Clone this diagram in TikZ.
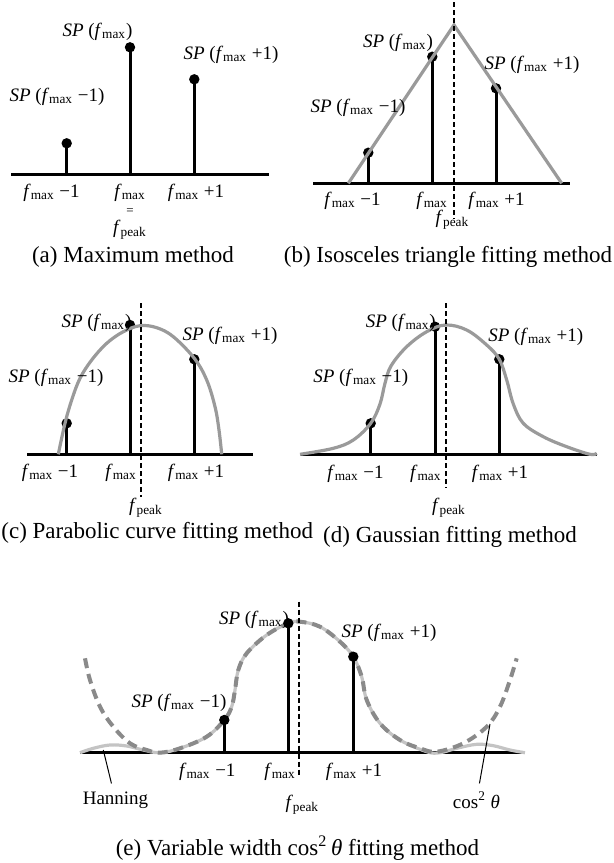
\documentclass[tikz,border=0pt]{standalone}
\usepackage{fontspec}
\setmainfont{Liberation Serif}
\newcommand\fm{\textit{f}\textsubscript{max}}
\newcommand\fpk{\textit{f}\textsubscript{peak}}
\definecolor{fitgray}{HTML}{9A9A9A}
\definecolor{hangray}{HTML}{C4C4C4}
\definecolor{cosgray}{HTML}{8A8A8A}
\begin{document}
\begin{tikzpicture}[x=0.5pt,y=-0.5pt,
 lbl/.style={inner sep=0pt, font=\fontsize{9.5}{11}\selectfont},
 captxt/.style={inner sep=0pt, font=\fontsize{11.5}{13}\selectfont},
 axis/.style={line width=1.5pt},
 stem/.style={line width=1.5pt},
 fitc/.style={line width=1.6pt, draw=fitgray},
 peakline/.style={line width=1pt, dash pattern=on 2.5pt off 1.5pt},
 dotr/.style={radius=2.6pt},
 ann/.style={line width=0.5pt}]
\useasboundingbox (0,0) rectangle (614,863);

% ---------- (a) ----------
\draw[axis] (11,174.3) -- (269,174.3);
\draw[stem] (66.7,174.3) -- (66.7,143.3); \fill (66.7,143.3) circle[dotr];
\draw[stem] (130,174.3) -- (130,47.3); \fill (130,47.3) circle[dotr];
\draw[stem] (194.3,174.3) -- (194.3,79.3); \fill (194.3,79.3) circle[dotr];
\node[lbl] (a1) at (97.5,31.7) {\textit{SP} (\fm)};
\node[lbl] (a2) at (231,55) {\textit{SP} (\fm\ +1)};
\node[lbl] (a3) at (57,97) {\textit{SP} (\fm\ −1)};
\node[lbl] (a4) at (51.5,193) {\fm\ −1};
\node[lbl] (a5) at (130,193) {\fm};
\node[lbl,font=\fontsize{6.5}{7}\selectfont] (a6) at (130,212) {=};
\node[lbl] (a7) at (130,230) {\fpk};
\node[lbl] (a8) at (196,193) {\fm\ +1};
\node[captxt] (ca) at (133,257) {(a) Maximum method};

% ---------- (b) ----------
\draw[axis] (313,183.3) -- (570,183.3);
\draw[stem] (368.3,183.3) -- (368.3,152.7); \fill (368.3,152.7) circle[dotr];
\draw[stem] (432.3,183.3) -- (432.3,56.7); \fill (432.3,56.7) circle[dotr];
\draw[stem] (496,183.3) -- (496,88.3); \fill (496,88.3) circle[dotr];
\draw[fitc] (348.3,183.3) -- (454,25) -- (561.7,183.3);
\draw[peakline] (454,2) -- (454,219);
\node[lbl] (b1) at (398,43.3) {\textit{SP} (\fm)};
\node[lbl] (b2) at (532,65) {\textit{SP} (\fm\ +1)};
\node[lbl] (b3) at (358,108) {\textit{SP} (\fm\ −1)};
\node[lbl] (b4) at (352.5,200.5) {\fm\ −1};
\node[lbl] (b5) at (432,200.5) {\fm};
\node[lbl] (b6) at (496.5,200.5) {\fm\ +1};
\node[lbl] (b7) at (452.5,220) {\fpk};
\node[captxt] (cb) at (448,257) {(b) Isosceles triangle fitting method};

% ---------- (c) ----------
\draw[axis] (27,454.3) -- (253,454.3);
\draw[stem] (66.7,454.3) -- (66.7,423.3); \fill (66.7,423.3) circle[dotr];
\draw[stem] (130,454.3) -- (130,325); \fill (130,325) circle[dotr];
\draw[stem] (194.3,454.3) -- (194.3,359.3); \fill (194.3,359.3) circle[dotr];
\draw[fitc] plot[smooth,tension=0.6] coordinates {(58.3,454.3) (65,423.3) (71.7,400) (80,378.3) (91.7,360) (106.7,343.3) (123.3,331.7) (140,325.7) (156.7,327.7) (173.3,336.7) (194.3,358.3) (206.7,380) (215,406.7) (219,430) (221.7,454.3)};
\draw[peakline] (140.7,303) -- (140.7,496.7);
\node[lbl] (c1) at (96.5,323.3) {\textit{SP} (\fm)};
\node[lbl] (c2) at (230,336) {\textit{SP} (\fm\ +1)};
\node[lbl] (c3) at (56,378) {\textit{SP} (\fm\ −1)};
\node[lbl] (c4) at (50,473.3) {\fm\ −1};
\node[lbl] (c5) at (121,473.3) {\fm};
\node[lbl] (c6) at (196,473.3) {\fm\ +1};
\node[lbl] (c7) at (146,508) {\fpk};
\node[captxt,anchor=west] (cc) at (1,533) {(c) Parabolic curve fitting method};

% ---------- (d) ----------
\draw[axis] (300,454.3) -- (596.7,454.3);
\draw[stem] (370.7,454.3) -- (370.7,423.3); \fill (370.7,423.3) circle[dotr];
\draw[stem] (435,454.3) -- (435,326.7); \fill (435,326.7) circle[dotr];
\draw[stem] (499.3,454.3) -- (499.3,359.3); \fill (499.3,359.3) circle[dotr];
\draw[fitc] plot[smooth,tension=0.6] coordinates {(300,454.3) (333.3,448.3) (353.3,440) (370.7,423.3) (380,404) (385,383.3) (391,366) (406.7,346.7) (426.7,331.7) (445.7,325) (466.7,330) (486.7,345) (499.3,359.3) (506.7,380) (513.3,404) (523.3,423.3) (543.3,436.7) (566.7,446.7) (590,454.3) (596.7,453.3)};
\draw[peakline] (445.7,303) -- (445.7,488);
\node[lbl] (d1) at (400.8,323.3) {\textit{SP} (\fm)};
\node[lbl] (d2) at (535.8,336.7) {\textit{SP} (\fm\ +1)};
\node[lbl] (d3) at (360.8,378.3) {\textit{SP} (\fm\ −1)};
\node[lbl] (d4) at (355.5,474.3) {\fm\ −1};
\node[lbl] (d5) at (425.8,474.3) {\fm};
\node[lbl] (d6) at (500,474.3) {\fm\ +1};
\node[lbl] (d7) at (449,508) {\fpk};
\node[captxt] (cd) at (450,536.7) {(d) Gaussian fitting method};

% ---------- (e) ----------
\draw[axis] (80,752.7) -- (525,752.7);
\draw[line width=1.6pt, hangray] plot[smooth,tension=0.6] coordinates {(80,752.7) (93.3,748.3) (110,745) (126.7,746) (143.3,750) (160,752.7) (180,748.3) (206.7,736.7) (224.3,720) (231.7,706.7) (235,690) (238.3,670) (246.7,653.3) (266.7,635) (288.3,623.3) (300,621.7) (320,626.7) (340,641.7) (353.3,656.7) (361.7,676.7) (366.7,700) (380,723.3) (400,740) (426.7,751.7) (440,752.7) (456.7,748.3) (476.7,744.3) (493.3,745.7) (510,750) (525,752.7)};
\draw[line width=2pt, cosgray, dash pattern=on 5pt off 3pt] plot[smooth,tension=0.6] coordinates {(85,658.3) (90,680) (100,706.7) (113.3,726.7) (130,743.3) (146.7,750) (160,752.7) (180,748.3) (206.7,736.7) (224.3,720) (231.7,706.7) (235,690) (238.3,670) (246.7,653.3) (266.7,635) (288.3,623.3) (300,621.7) (320,626.7) (340,641.7) (353.3,656.7) (361.7,676.7) (366.7,700) (380,723.3) (400,740) (420,748.3) (436.7,751.7) (463.3,743.3) (486.7,726.7) (500,706.7) (510,680) (516.7,658.3)};
\draw[stem] (224.3,752.7) -- (224.3,720); \fill (224.3,720) circle[dotr];
\draw[stem] (288.3,752.7) -- (288.3,623.3); \fill (288.3,623.3) circle[dotr];
\draw[stem] (353.3,752.7) -- (353.3,656.7); \fill (353.3,656.7) circle[dotr];
\draw[peakline] (299,601.7) -- (299,775);
\node[lbl] (e1) at (254,620) {\textit{SP} (\fm)};
\node[lbl] (e2) at (389,633) {\textit{SP} (\fm\ +1)};
\node[lbl] (e3) at (179,703) {\textit{SP} (\fm\ −1)};
\node[lbl] (e4) at (207.3,771.7) {\fm\ −1};
\node[lbl] (e5) at (280,771.7) {\fm};
\node[lbl] (e6) at (354,771.7) {\fm\ +1};
\node[lbl] (e7) at (302.3,805) {\fpk};
\node[lbl] (han) at (115.5,800) {Hanning};
\node[lbl] (cosl) at (476.5,800) {cos\textsuperscript{2} \textit{θ}};
\coordinate (hanpt) at (103.3,750);
\coordinate (cospt) at (490,724);
\draw[ann, shorten >=4pt] (hanpt) -- (han);
\draw[ann, shorten >=4pt] (cospt) -- (cosl);
\node[captxt] (ce) at (297.5,848) {(e) Variable width cos\textsuperscript{2}\,\textit{θ} fitting method};
\end{tikzpicture}
\end{document}
